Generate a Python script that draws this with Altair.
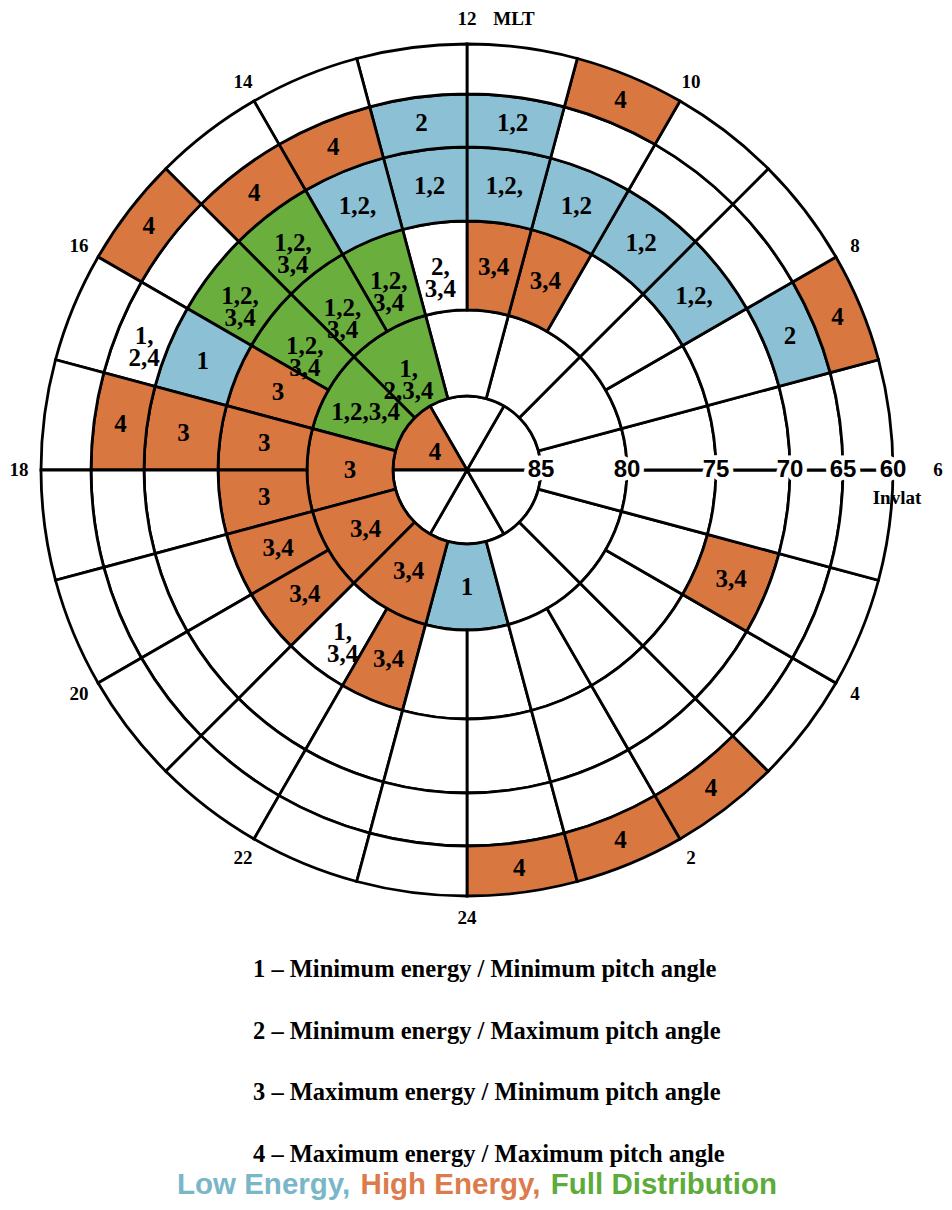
import math
import altair as alt
import pandas as pd

# ---------------- data ----------------
# Rings of invariant latitude (pole side, equator side)
ring_id = ["R1", "R2", "R3", "R4", "R5", "R6"]
ring_lat_hi = [90, 85, 80, 75, 70, 65]
ring_lat_lo = [85, 80, 75, 70, 65, 60]

# MLT sector edges (hours) of every ring
r1_edges = [-2, 2, 6, 10, 14, 18, 22]
r2_edges = [-1, 1, 3, 5, 7, 9, 11, 13, 15, 17, 19, 21, 23]
hour_edges = [0, 1, 2, 3, 4, 5, 6, 7, 8, 9, 10, 11, 12,
              13, 14, 15, 16, 17, 18, 19, 20, 21, 22, 23, 24]
ring_edges = {"R1": r1_edges, "R2": r2_edges, "R3": hour_edges,
              "R4": hour_edges, "R5": hour_edges, "R6": hour_edges}

# Marked cells: ring, MLT start, MLT end, class, text
cell_ring = ["R1",
             "R2", "R2", "R2", "R2", "R2", "R2",
             "R3", "R3", "R3", "R3", "R3", "R3", "R3", "R3", "R3", "R3", "R3", "R3", "R3",
             "R4", "R4", "R4", "R4", "R4", "R4", "R4", "R4", "R4", "R4", "R4",
             "R5", "R5", "R5", "R5", "R5", "R5", "R5",
             "R6", "R6", "R6", "R6", "R6", "R6"]
cell_start = [14,
              -1, 13, 15, 17, 19, 21,
              10, 11, 12, 13, 14, 15, 16, 17, 18, 19, 20, 21, 22,
              4, 8, 9, 10, 11, 12, 13, 14, 15, 16, 17,
              7, 11, 12, 13, 14, 16, 17,
              0, 1, 2, 7, 10, 15]
cell_end = [18,
            1, 15, 17, 19, 21, 23,
            11, 12, 13, 14, 15, 16, 17, 18, 19, 20, 21, 22, 23,
            5, 9, 10, 11, 12, 13, 14, 15, 16, 17, 18,
            8, 12, 13, 14, 15, 17, 18,
            1, 2, 3, 8, 11, 16]
cell_class = ["high",
              "low", "full", "full", "high", "high", "high",
              "high", "high", "none", "full", "full", "full", "high", "high", "high", "high", "high", "none", "high",
              "high", "low", "low", "low", "low", "low", "low", "full", "full", "low", "high",
              "low", "low", "low", "high", "high", "none", "high",
              "high", "high", "high", "high", "high", "high"]
cell_text = ["4",
             "1", "1,\n2,3,4", "1,2,3,4", "3", "3,4", "3,4",
             "3,4", "3,4", "2,\n3,4", "1,2,\n3,4", "1,2,\n3,4", "1,2,\n3,4", "3", "3", "3", "3,4", "3,4", "1,\n3,4", "3,4",
             "3,4", "1,2,", "1,2", "1,2", "1,2,", "1,2", "1,2,", "1,2,\n3,4", "1,2,\n3,4", "1", "3",
             "2", "1,2", "2", "4", "4", "1,\n2,4", "4",
             "4", "4", "4", "4", "4", "4"]

class_names = ["none", "low", "high", "full"]
class_colors = ["#ffffff", "#8cc1d5", "#d8773f", "#6aae3e"]

ring_label_lat = [85, 80, 75, 70, 65, 60]
ring_label_text = ["85", "80", "75", "70", "65", "60"]

mlt_label_hours = [2, 4, 6, 8, 10, 12, 14, 16, 18, 20, 22, 24]
mlt_label_text = ["2", "4", "6", "8", "10", "12", "14", "16", "18", "20", "22", "24"]

legend_lines = [
    "1 \u2013 Minimum energy / Minimum pitch angle",
    "2 \u2013 Minimum energy / Maximum pitch angle",
    "3 \u2013 Maximum energy / Minimum pitch angle",
    "4 \u2013 Maximum energy / Maximum pitch angle",
]
summary_words = ["Low Energy,", "High Energy,", "Full Distribution"]
summary_colors = ["#79b6c8", "#dc7b4b", "#5dab3a"]

# ---------------- tables ----------------
rows = []
for rid, hi, lo in zip(ring_id, ring_lat_hi, ring_lat_lo):
    e = ring_edges[rid]
    for a, b in zip(e[:-1], e[1:]):
        rows.append({"ring": rid, "t0": a, "t1": b, "lat_hi": hi, "lat_lo": lo})
grid = pd.DataFrame(rows)
cells = pd.DataFrame({"ring": cell_ring, "t0": cell_start, "t1": cell_end,
                      "cls": cell_class, "label": cell_text})
grid = grid.merge(cells, on=["ring", "t0", "t1"], how="left")
grid["cls"] = grid["cls"].fillna("none")
grid["label"] = grid["label"].fillna("")

labels = grid[grid["label"] != ""].copy()
labels["tmid"] = (labels["t0"] + labels["t1"]) / 2
labels["latmid"] = (labels["lat_hi"] + labels["lat_lo"]) / 2

ring_lab = pd.DataFrame({"lat": ring_label_lat, "text": ring_label_text,
                         "mlt": [6] * len(ring_label_lat)})
mlt_lab = pd.DataFrame({"mlt": mlt_label_hours, "text": mlt_label_text})
legend_df = pd.DataFrame({"text": legend_lines, "row": list(range(len(legend_lines)))})

# ---------------- scales ----------------
CX, CY = 459, 462
theta_scale = alt.Scale(type="linear", domain=[12, -12], range=[0, 2 * math.pi])
radius_scale = alt.Scale(type="linear", domain=[90, 85, 80, 75, 70, 65, 60],
                         range=[0, 74, 160, 249, 323, 376, 426], zero=False)

cx = alt.value(CX)
cy = alt.value(CY)

arcs = alt.Chart(grid).mark_arc(stroke="black", strokeWidth=2.8).encode(
    x=cx, y=cy,
    theta=alt.Theta("t0:Q", scale=theta_scale, stack=False),
    theta2="t1:Q",
    radius=alt.Radius("lat_lo:Q", scale=radius_scale),
    radius2="lat_hi:Q",
    fill=alt.Fill("cls:N", scale=alt.Scale(domain=class_names, range=class_colors), legend=None),
)

cell_text_layer = alt.Chart(labels).mark_text(
    font="Liberation Serif", fontWeight="bold", fontSize=25, lineBreak="\n",
    lineHeight=22, align="center", baseline="middle", color="black"
).encode(
    x=cx, y=cy,
    theta=alt.Theta("tmid:Q", scale=theta_scale, stack=False),
    radius=alt.Radius("latmid:Q", scale=radius_scale),
    text="label:N",
)

ring_halo = alt.Chart(ring_lab).mark_text(
    font="Liberation Sans", fontWeight="bold", fontSize=24, align="center",
    baseline="middle", color="white", stroke="white", strokeWidth=9
).encode(
    x=cx, y=cy,
    theta=alt.Theta("mlt:Q", scale=theta_scale, stack=False),
    radius=alt.Radius("lat:Q", scale=radius_scale),
    text="text:N",
)
ring_text = alt.Chart(ring_lab).mark_text(
    font="Liberation Sans", fontWeight="bold", fontSize=24, align="center",
    baseline="middle", color="black"
).encode(
    x=cx, y=cy,
    theta=alt.Theta("mlt:Q", scale=theta_scale, stack=False),
    radius=alt.Radius("lat:Q", scale=radius_scale),
    text="text:N",
)
invlat = alt.Chart(ring_lab[ring_lab["lat"] == 60]).mark_text(
    font="Liberation Serif", fontWeight="bold", fontSize=19, align="center",
    baseline="middle", color="black", dy=28, dx=4
).encode(
    x=cx, y=cy,
    theta=alt.Theta("mlt:Q", scale=theta_scale, stack=False),
    radius=alt.Radius("lat:Q", scale=radius_scale),
    text=alt.value("Invlat"),
)

mlt_font = dict(font="Liberation Serif", fontWeight="bold", fontSize=19,
                align="center", baseline="middle", color="black")
mlt_text = alt.Chart(mlt_lab).transform_filter(
    "datum.mlt != 6 && datum.mlt != 12").mark_text(**mlt_font).encode(
    x=cx, y=cy,
    theta=alt.Theta("mlt:Q", scale=theta_scale, stack=False),
    radius=alt.value(448),
    text="text:N",
)
mlt_six = alt.Chart(mlt_lab).transform_filter("datum.mlt == 6").mark_text(**mlt_font).encode(
    x=cx, y=cy,
    theta=alt.Theta("mlt:Q", scale=theta_scale, stack=False),
    radius=alt.value(471),
    text="text:N",
)
mlt_noon = alt.Chart(mlt_lab).transform_filter("datum.mlt == 12").mark_text(**mlt_font).encode(
    x=cx, y=cy,
    theta=alt.Theta("mlt:Q", scale=theta_scale, stack=False),
    radius=alt.value(451),
    text="text:N",
)
mlt_word = alt.Chart(mlt_lab).transform_filter("datum.mlt == 12").mark_text(
    dx=47, **mlt_font
).encode(
    x=cx, y=cy,
    theta=alt.Theta("mlt:Q", scale=theta_scale, stack=False),
    radius=alt.value(451),
    text=alt.value("MLT"),
)

legend_layer = alt.Chart(legend_df).mark_text(
    font="Liberation Serif", fontWeight="bold", fontSize=24.5, align="left",
    baseline="middle", color="black"
).encode(
    x=alt.value(245),
    y=alt.Y("row:Q", scale=alt.Scale(domain=[0, 3], range=[962, 1147]), axis=None),
    text="text:N",
)

summary_x = [169, 352.6, 542.8]
summary_layers = []
for word, col, xx in zip(summary_words, summary_colors, summary_x):
    summary_layers.append(
        alt.Chart(pd.DataFrame({"w": [word]})).mark_text(
            font="Liberation Sans", fontWeight="bold", fontSize=29.5, align="left",
            baseline="alphabetic", color=col
        ).encode(x=alt.value(xx), y=alt.value(1186), text="w:N")
    )

chart = alt.layer(
    arcs, cell_text_layer, ring_halo, ring_text, invlat,
    mlt_text, mlt_six, mlt_noon, mlt_word, legend_layer, *summary_layers
).resolve_scale(y="independent").properties(
    width=936, height=1194, padding=0,
    autosize=alt.AutoSizeParams(type="none"),
    background="white",
).configure_view(strokeWidth=0)

chart.save("out.html", embed_options={"renderer": "svg", "actions": False})
